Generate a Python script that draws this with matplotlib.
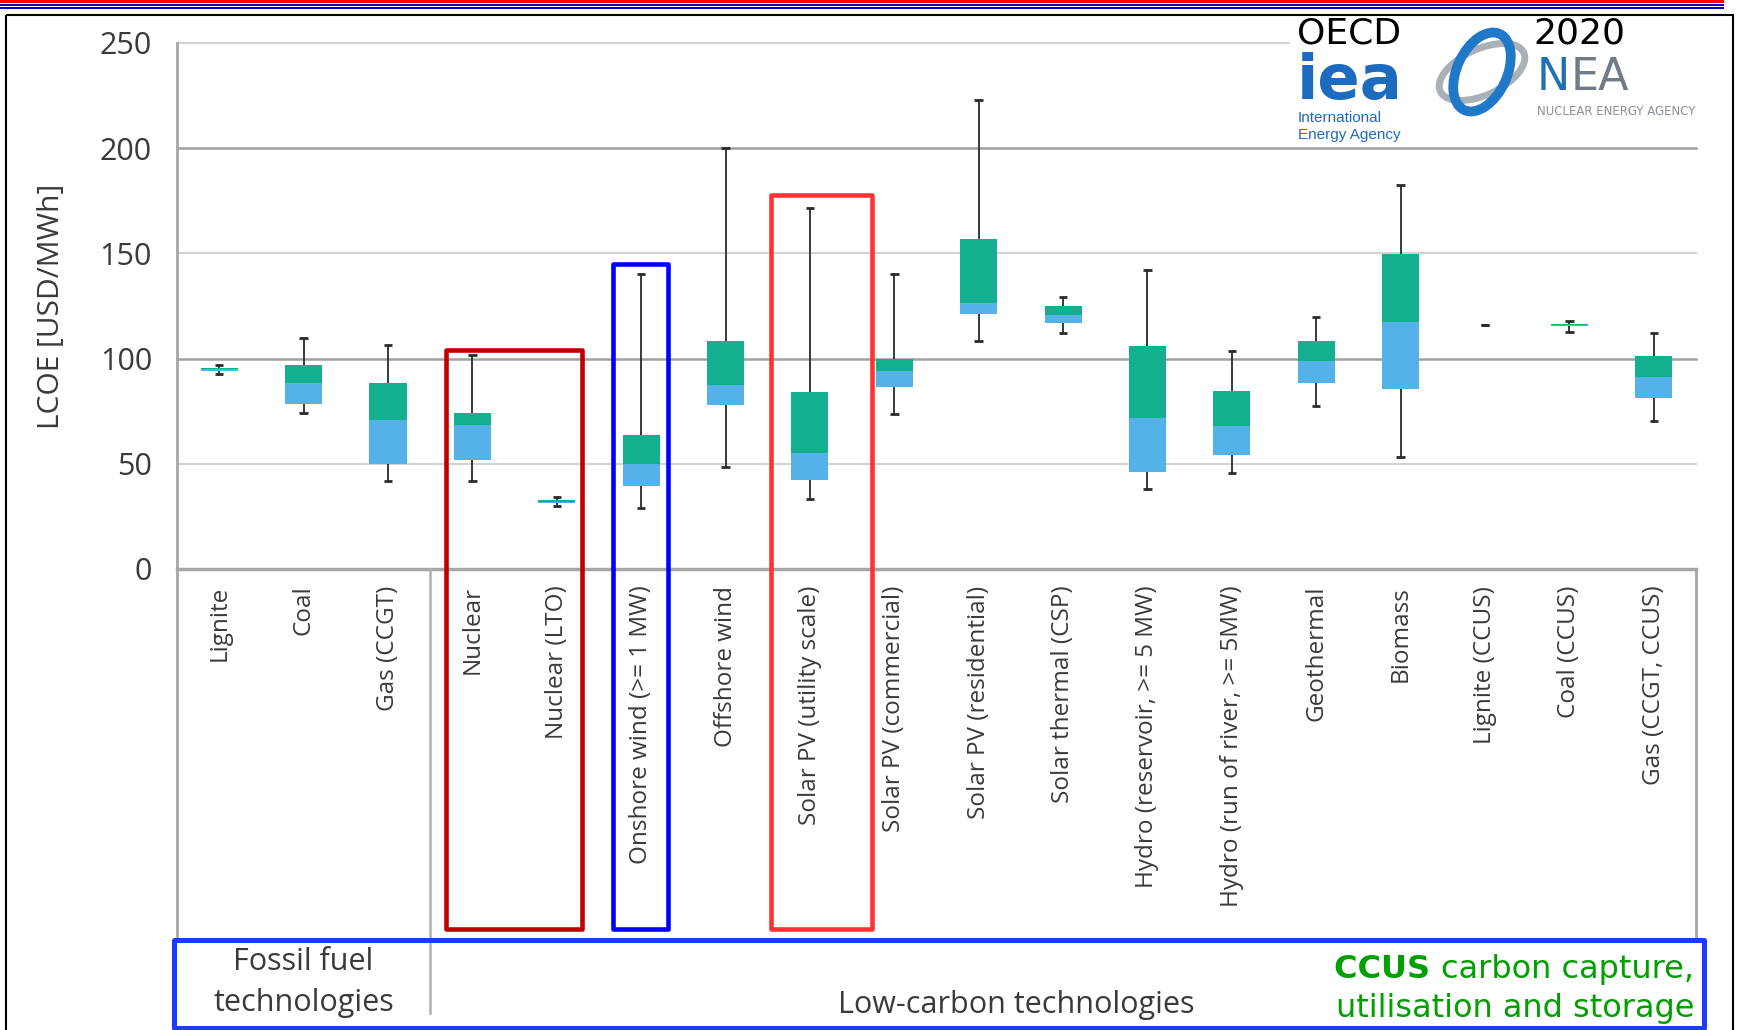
import matplotlib
matplotlib.use('Agg')
import matplotlib.pyplot as plt
import numpy as np
from matplotlib.patches import Rectangle, Ellipse

plt.rcParams['font.family'] = ['Open Sans', 'DejaVu Sans']

# LCOE ranges per technology (USD/MWh)
categories = ['Lignite', 'Coal', 'Gas (CCGT)', 'Nuclear', 'Nuclear (LTO)',
              'Onshore wind (>= 1 MW)', 'Offshore wind', 'Solar PV (utility scale)',
              'Solar PV (commercial)', 'Solar PV (residential)', 'Solar thermal (CSP)',
              'Hydro (reservoir, >= 5 MW)', 'Hydro (run of river, >= 5MW)',
              'Geothermal', 'Biomass', 'Lignite (CCUS)', 'Coal (CCUS)', 'Gas (CCGT, CCUS)']
whisker_low = [92.7, 74.3, 41.8, 41.8, 29.8, 28.9, 48.3, 33.5, 73.7, 108.5,
               112.0, 37.9, 45.6, 77.5, 53.3, 116.0, 112.6, 70.2]
box_low = [94.3, 78.4, 49.8, 51.9, 31.3, 39.5, 77.9, 42.4, 86.7, 121.2,
           116.7, 46.3, 54.3, 88.4, 85.7, 116.0, 115.3, 81.3]
median = [95.0, 88.2, 70.8, 68.6, 32.0, 49.8, 87.5, 55.1, 94.0, 126.5,
          120.5, 71.8, 68.1, 98.7, 117.6, 116.0, 116.0, 91.1]
box_high = [95.6, 97.1, 88.4, 74.1, 32.6, 63.8, 108.3, 84.3, 99.8, 157.0,
            124.8, 105.9, 84.8, 108.6, 149.5, 116.0, 116.6, 101.0]
whisker_high = [97.1, 109.7, 106.5, 101.9, 34.3, 140.0, 200.0, 171.8, 140.0, 223.0,
                129.5, 142.0, 103.8, 119.7, 182.4, 116.0, 118.1, 112.0]
y_ticks = [0, 50, 100, 150, 200, 250]

GREEN = '#12b08e'
BLUE = '#55b2e8'
GRID_LIGHT = '#d2d2d2'
GRID_DARK = '#a0a0a0'
TXT = '#3a3a3a'

W, H = 1737, 1030
fig = plt.figure(figsize=(W / 100, H / 100), dpi=100)
ax = fig.add_axes([177 / W, 1 - 569 / H, (1696 - 177) / W, (569 - 43) / H])

x = np.arange(len(categories))

# whiskers and caps
ax.vlines(x, whisker_low, whisker_high, color='#2a2a2a', lw=1.3, zorder=2)
ax.hlines(whisker_low, x - 0.05, x + 0.05, color='#2a2a2a', lw=2, zorder=2)
ax.hlines(whisker_high, x - 0.05, x + 0.05, color='#2a2a2a', lw=2, zorder=2)

# boxes: lower half blue, upper half green
ax.bar(x, np.subtract(median, box_low), bottom=box_low, width=0.44, color=BLUE, zorder=3)
ax.bar(x, np.subtract(box_high, median), bottom=median, width=0.44, color=GREEN, zorder=3)

ax.set_xlim(-0.5, len(categories) - 0.5)
ax.set_ylim(0, 250)

# grid
for t in y_ticks[1:]:
    dark = t in (100, 200)
    ax.axhline(t, color=GRID_DARK if dark else GRID_LIGHT, lw=1.8 if dark else 1.5,
               zorder=1, clip_on=False)
ax.axhline(0, color='#a6a6a6', lw=2.5, zorder=4, clip_on=False)

for s in ax.spines.values():
    s.set_visible(False)

# frame lines of the category area
ax.plot([-0.5, -0.5], [250, -176], color='#a6a6a6', lw=2, clip_on=False, zorder=4)
ax.plot([17.5, 17.5], [0, -176], color='#a6a6a6', lw=2, clip_on=False, zorder=4)
ax.plot([2.5, 2.5], [0, -211], color='#b0b0b0', lw=1.8, clip_on=False, zorder=4)

ax.set_yticks(y_ticks)
ax.set_yticklabels([str(t) for t in y_ticks], fontsize=22, color=TXT)
ax.set_xticks(x)
ax.set_xticklabels(categories, rotation=90, fontsize=17.5, color=TXT)
ax.tick_params(axis='both', length=0)
ax.tick_params(axis='x', pad=12)
ax.tick_params(axis='y', pad=18)
ax.set_ylabel('LCOE [USD/MWh]', fontsize=21.5, color=TXT)
ax.yaxis.set_label_coords(-0.073, 0.5)

# group labels
ax.text(1.0, -196.5, 'Fossil fuel\ntechnologies', ha='center', va='center',
        fontsize=22, color=TXT, linespacing=1.5, clip_on=False)
ax.text(9.45, -207, 'Low-carbon technologies', ha='center', va='center',
        fontsize=22, color=TXT, clip_on=False)

# CCUS note
t1 = ax.text(17.48, -190.5, 'carbon capture,', ha='right', va='center',
             fontsize=23, color='#00a000', family='DejaVu Sans', clip_on=False)
ax.annotate('CCUS ', xy=(0, 0), xycoords=t1, ha='right', va='bottom',
            fontsize=23, color='#00a000', family='DejaVu Sans', weight='bold')
ax.text(17.48, -209, 'utilisation and storage', ha='right', va='center',
        fontsize=23, color='#00a000', family='DejaVu Sans', clip_on=False)

# highlight boxes
highlights = [((2.69, -171.0), 4.30 - 2.69, 104.3 + 171.0, '#c00000'),
              ((4.67, -171.0), 5.32 - 4.67, 145.0 + 171.0, '#0000ff'),
              ((6.54, -171.0), 7.74 - 6.54, 177.8 + 171.0, '#ff3333')]
for xy, w, h, c in highlights:
    ax.add_patch(Rectangle(xy, w, h, fill=False, edgecolor=c, lw=3.3,
                           joinstyle='round', clip_on=False, zorder=6))
ax.add_patch(Rectangle((-0.535, -218.0), 17.6 + 0.535, 218.0 - 176.3, fill=False,
                       edgecolor='#1a3cff', lw=3.6, joinstyle='round',
                       clip_on=False, zorder=6))

# overlay for page decoration and logos (pixel coordinates)
ov = fig.add_axes([0, 0, 1, 1], zorder=10)
ov.set_xlim(0, W)
ov.set_ylim(H, 0)
ov.axis('off')
ov.patch.set_alpha(0)

ov.add_patch(Rectangle((0, 0), 1724, 2.5, color='#ff0000', lw=0))
ov.add_patch(Rectangle((0, 4), 1724, 2, color='#0000cc', lw=0))
ov.add_patch(Rectangle((0, 7.3), 1724, 2, color='#0000cc', lw=0))
ov.add_patch(Rectangle((6, 15), 1727, 1030, fill=False, edgecolor='black', lw=1.5))

# logo backgrounds
ov.add_patch(Rectangle((1290, 17), 138, 130, color='white', lw=0))
ov.add_patch(Rectangle((1428, 17), 290, 110, color='white', lw=0))

ov.text(1297, 99, 'iea', fontsize=45, weight='bold', family='DejaVu Sans',
        color='#1c6bbf', ha='left', va='baseline')
ov.text(1298, 122, 'International', fontsize=11, color='#1c6bbf', ha='left',
        va='baseline', family='Liberation Sans')
ov.text(1298, 139, 'Energy Agency', fontsize=11, color='#1c6bbf', ha='left',
        va='baseline', family='Liberation Sans')

ov.add_patch(Ellipse((1482, 72), 92, 46, angle=-25, fill=False, edgecolor='#a9b0b8', lw=5))
ov.add_patch(Ellipse((1482, 72), 50, 84, angle=25, fill=False, edgecolor='#1f78c8', lw=7))
tn = ov.text(1537, 90, 'N', fontsize=32, color='#1f6fb5', family='DejaVu Sans',
             ha='left', va='baseline')
ov.annotate('EA', xy=(1, 0), xycoords=tn, fontsize=32, color='#6f7c88',
            family='DejaVu Sans', ha='left', va='bottom')
ov.text(1537, 115, 'NUCLEAR ENERGY AGENCY', fontsize=8.5, color='#8a9098',
        family='DejaVu Sans', ha='left', va='baseline')

ov.text(1297, 44, 'OECD', fontsize=26, color='black', family='DejaVu Sans',
        ha='left', va='baseline', zorder=5)
ov.text(1533, 44, '2020', fontsize=26, color='black', family='DejaVu Sans',
        ha='left', va='baseline', zorder=5)

fig.savefig('out.png', dpi=100)
